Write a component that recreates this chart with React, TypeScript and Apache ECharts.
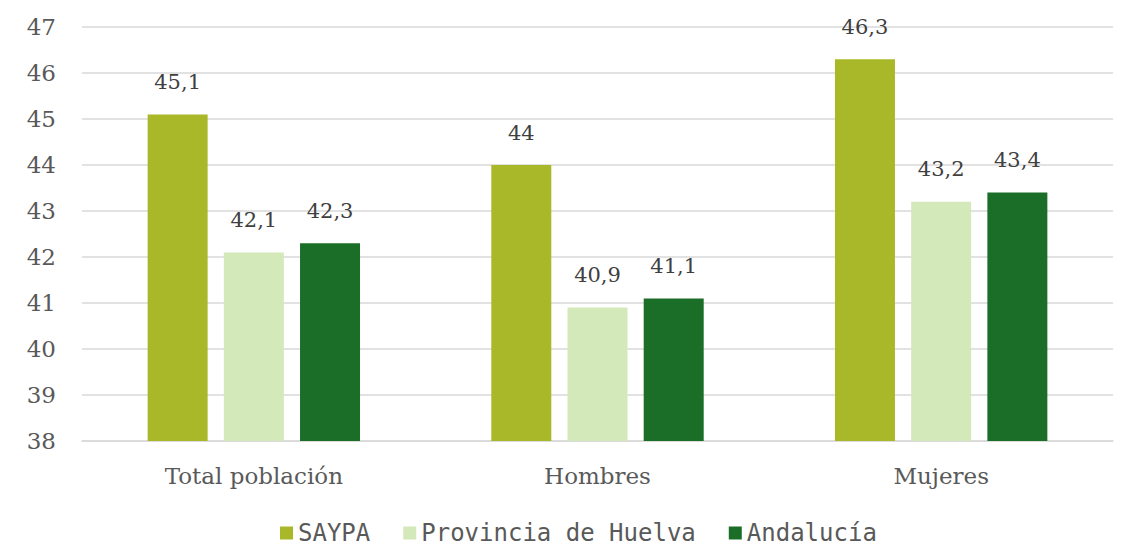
import React, { useEffect, useRef } from "react";
import * as echarts from "echarts";

const categories = ["Total población", "Hombres", "Mujeres"];
const seriesNames = ["SAYPA", "Provincia de Huelva", "Andalucía"];
const saypa = [45.1, 44, 46.3];
const provincia = [42.1, 40.9, 43.2];
const andalucia = [42.3, 41.1, 43.4];
const colors = ["#A8B829", "#D4E9BA", "#1B6E27"];
const yMin = 38;
const yMax = 47;

export default function App() {
  const ref = useRef<HTMLDivElement>(null);
  useEffect(() => {
    if (!ref.current) return;
    const chart = echarts.init(ref.current, null, { renderer: "svg" });
    const values = [saypa, provincia, andalucia];
    const serif = "'DejaVu Serif', serif";
    chart.setOption({
      animation: false,
      grid: { left: 82, right: 9, top: 27, bottom: 107, containLabel: false },
      legend: {
        top: 521,
        left: 280,
        padding: 0,
        itemWidth: 13,
        itemHeight: 13,
        itemGap: 33,
        icon: "rect",
        textStyle: {
          fontFamily: "'DejaVu Sans Mono', monospace",
          fontSize: 24,
          lineHeight: 24,
          color: "#595959",
        },
        data: seriesNames,
      },
      xAxis: {
        type: "category",
        data: categories,
        axisTick: { show: false },
        axisLine: { lineStyle: { color: "#d9d9d9", width: 1.5 } },
        axisLabel: { fontFamily: serif, fontSize: 23, color: "#595959", margin: 23 },
      },
      yAxis: {
        type: "value",
        min: yMin,
        max: yMax,
        interval: 1,
        axisLine: { show: false },
        axisTick: { show: false },
        splitLine: { lineStyle: { color: "#d9d9d9", width: 1.5 } },
        axisLabel: { fontFamily: serif, fontSize: 23, color: "#595959", margin: 26 },
      },
      series: seriesNames.map((name, i) => ({
        name,
        type: "bar",
        data: values[i],
        barWidth: 60,
        barGap: "27%",
        itemStyle: { color: colors[i] },
        label: {
          show: true,
          position: "top",
          distance: 22,
          fontFamily: serif,
          fontSize: 21,
          color: "#404040",
          formatter: (p: any) => String(p.value).replace(".", ","),
        },
      })),
    });
    return () => chart.dispose();
  }, []);
  return (
    <div
      ref={ref}
      style={{ position: "fixed", left: 0, top: 0, width: 1122, height: 548, background: "#fff" }}
    />
  );
}
